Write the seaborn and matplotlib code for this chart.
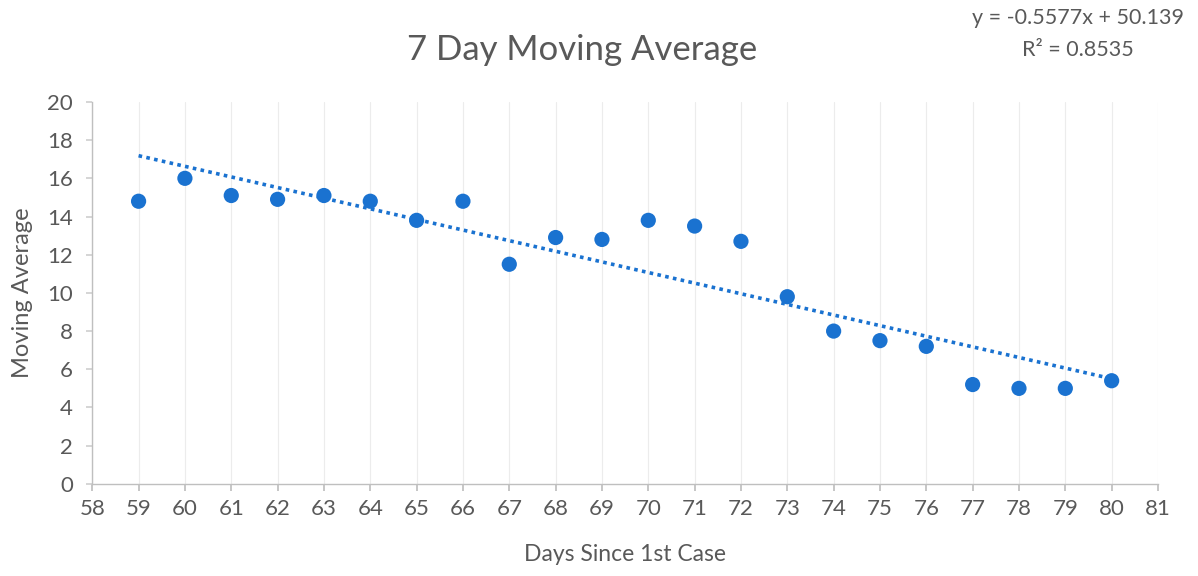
import matplotlib
matplotlib.use("Agg")
import matplotlib.pyplot as plt
import seaborn as sns
import pandas as pd
import numpy as np

days = [59, 60, 61, 62, 63, 64, 65, 66, 67, 68, 69, 70, 71, 72, 73, 74, 75, 76, 77, 78, 79, 80]
moving_avg = [14.8, 16.0, 15.1, 14.9, 15.1, 14.8, 13.8, 14.8, 11.5, 12.9, 12.8, 13.8,
              13.5, 12.7, 9.8, 8.0, 7.5, 7.2, 5.2, 5.0, 5.0, 5.4]
x_ticks = list(range(58, 82))
y_ticks = list(range(0, 21, 2))
equation_text = "y = -0.5577x + 50.139\nR² = 0.8535"

df = pd.DataFrame({"Days Since 1st Case": days, "Moving Average": moving_avg})

sns.set_theme(style="white")
plt.rcParams["font.family"] = ["Lato", "DejaVu Sans"]

blue = "#1a72d0"
text_color = "#595959"

fig = plt.figure(figsize=(11.98, 5.76), dpi=100)
ax = fig.add_axes([0.077, 0.16, 0.8896, 0.663])

sns.regplot(data=df, x="Days Since 1st Case", y="Moving Average", ax=ax, ci=None,
            scatter_kws=dict(s=120, color=blue, edgecolor="none", zorder=3, alpha=1),
            line_kws=dict(color=blue, linestyle=(0, (1, 1.2)), linewidth=2.6, zorder=2),
            truncate=True)

ax.set_xlim(58, 81)
ax.set_ylim(0, 20)
ax.set_xticks(x_ticks)
ax.set_yticks(y_ticks)
ax.grid(axis="x", color="#ececec", linewidth=0.8)
ax.grid(axis="y", visible=False)
for s in ["top", "right"]:
    ax.spines[s].set_visible(False)
for s in ["left", "bottom"]:
    ax.spines[s].set_color("#bfbfbf")
    ax.spines[s].set_linewidth(1.0)
ax.tick_params(axis="x", bottom=True, length=5, color="#bfbfbf", labelsize=16, labelcolor=text_color, pad=6)
ax.tick_params(axis="y", left=True, length=4, color="#d0d0d0", labelsize=16, labelcolor=text_color, pad=10)
ax.set_xlabel("Days Since 1st Case", fontsize=16.5, color=text_color, labelpad=18)
ax.set_ylabel("Moving Average", fontsize=17, color=text_color, labelpad=10)

fig.text(0.486, 0.913, "7 Day Moving Average", ha="center", va="center", fontsize=25, color=text_color)
fig.text(0.988, 0.941, equation_text, ha="right", va="center", fontsize=15.5,
         color=text_color, multialignment="center", linespacing=1.75)

fig.savefig("out.png", dpi=100)
